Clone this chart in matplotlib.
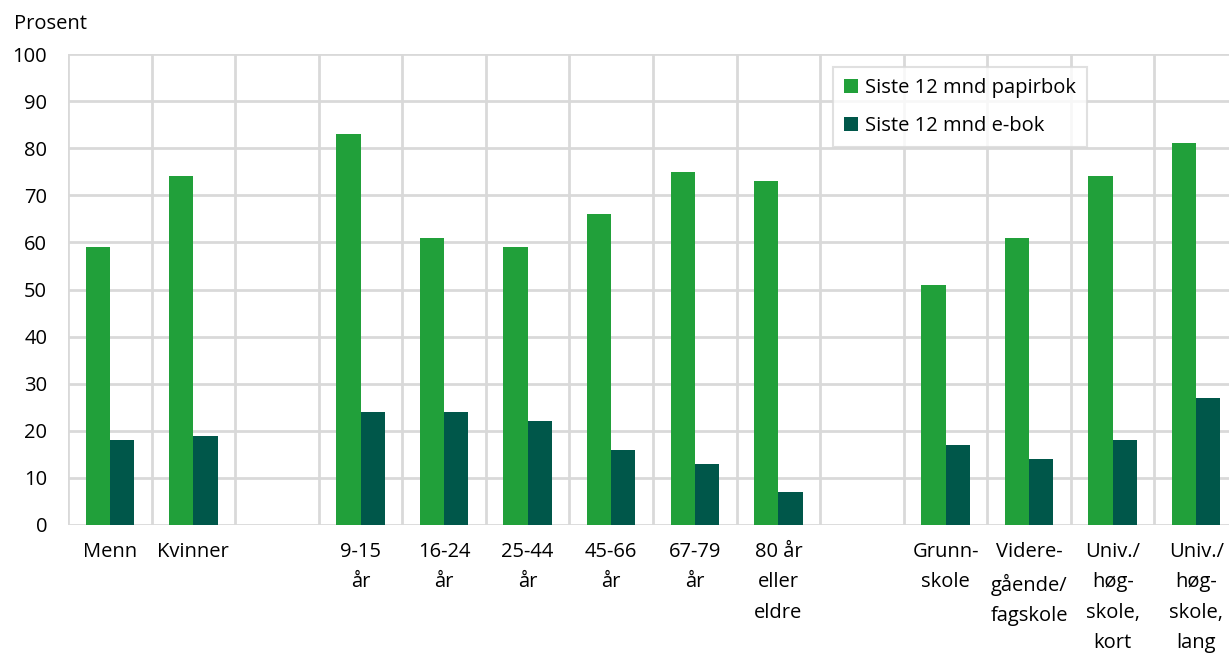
import numpy as np
import matplotlib.pyplot as plt

plt.rcParams["font.family"] = ["Open Sans", "DejaVu Sans"]

CATEGORIES = [
    "Menn", "Kvinner", "",
    "9-15\når", "16-24\når", "25-44\når", "45-66\når", "67-79\når", "80 år\neller\neldre", "",
    "Grunn-\nskole", "Videre-\ngående/\nfagskole", "Univ./\nhøg-\nskole,\nkort", "Univ./\nhøg-\nskole,\nlang",
]
PAPIRBOK = [59, 74, np.nan, 83, 61, 59, 66, 75, 73, np.nan, 51, 61, 74, 81]
EBOK = [18, 19, np.nan, 24, 24, 22, 16, 13, 7, np.nan, 17, 14, 18, 27]
SERIES = ["Siste 12 mnd papirbok", "Siste 12 mnd e-bok"]
COLORS = ["#21A03A", "#00574A"]
GRID = "#D9D9D9"
FS = 14.5

fig = plt.figure(figsize=(12.29, 6.55), dpi=100)
ax = fig.add_axes([68 / 1229, 1 - 525 / 655, (1238 - 68) / 1229, (525 - 54) / 655])

x = np.arange(len(CATEGORIES))
w = 0.29
ax.bar(x - w / 2, PAPIRBOK, w, color=COLORS[0], label=SERIES[0], zorder=3)
ax.bar(x + w / 2, EBOK, w, color=COLORS[1], label=SERIES[1], zorder=3)

ax.set_xlim(-0.5, len(CATEGORIES) - 0.5)
ax.set_ylim(0, 100)
ax.set_yticks(range(0, 101, 10))
ax.set_xticks(x)
ax.set_xticklabels(CATEGORIES, linespacing=1.7, va="top")
ax.set_xticks(np.arange(-0.5, len(CATEGORIES), 1), minor=True)

for s in ax.spines.values():
    s.set_visible(False)
ax.grid(axis="y", color=GRID, linewidth=2, zorder=0)
ax.grid(axis="x", which="minor", color=GRID, linewidth=2, zorder=0)
ax.grid(axis="x", which="major", visible=False)
ax.tick_params(axis="both", which="both", length=0, labelsize=FS, colors="#000000")
ax.tick_params(axis="x", pad=12)
ax.tick_params(axis="y", pad=15)

fig.text(14 / 1229, 1 - 24 / 655, "Prosent", fontsize=FS, va="center", ha="left")

leg = ax.legend(loc="upper left", bbox_to_anchor=((833 - 68) / 1170, (525 - 67) / 471),
                fontsize=FS, frameon=True, fancybox=False, edgecolor=GRID,
                handlelength=0.7, handleheight=0.7, handletextpad=0.35,
                labelspacing=0.9, borderpad=0.55, borderaxespad=0)
leg.get_frame().set_linewidth(1.5)

fig.savefig("out.png", dpi=100)
